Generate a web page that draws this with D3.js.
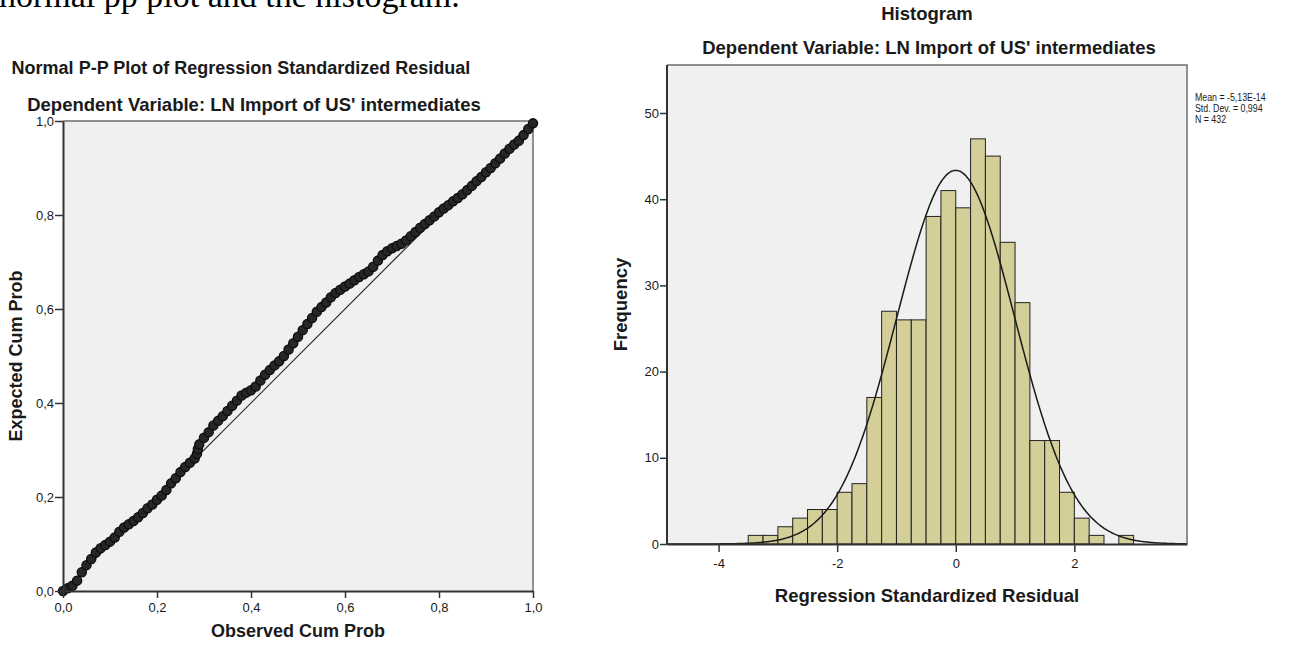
<!DOCTYPE html>
<html>
<head>
<meta charset="utf-8">
<script src="https://cdn.jsdelivr.net/npm/d3@7"></script>
<style>
  html, body { margin: 0; padding: 0; background: #ffffff; }
  svg { display: block; }
  text { font-family: "Liberation Sans", Arial, sans-serif; fill: #1a1a1a; }
</style>
</head>
<body>
<svg id="chart" width="1306" height="646"></svg>
<script>
// ---------- Normal P-P plot data (observed vs expected cumulative probability) ----------
const ppObserved = [
  0.00, 0.01, 0.02, 0.03, 0.04, 0.05, 0.06, 0.07, 0.08, 0.09,
  0.10, 0.11, 0.12, 0.13, 0.14, 0.15, 0.16, 0.17, 0.18, 0.19,
  0.20, 0.21, 0.22, 0.23, 0.24, 0.25, 0.26, 0.27, 0.28, 0.285, 0.287, 0.29,
  0.30, 0.31, 0.32, 0.33, 0.34, 0.35, 0.36, 0.37, 0.38, 0.39,
  0.40, 0.41, 0.42, 0.43, 0.44, 0.45, 0.46, 0.47, 0.48, 0.49,
  0.50, 0.51, 0.52, 0.53, 0.54, 0.55, 0.56, 0.57, 0.58, 0.59,
  0.60, 0.61, 0.62, 0.63, 0.64, 0.65, 0.66, 0.67, 0.68, 0.69,
  0.70, 0.71, 0.72, 0.73, 0.74, 0.75, 0.76, 0.77, 0.78, 0.79,
  0.80, 0.81, 0.82, 0.83, 0.84, 0.85, 0.86, 0.87, 0.88, 0.89,
  0.90, 0.91, 0.92, 0.93, 0.94, 0.95, 0.96, 0.97, 0.98, 0.99, 1.00
];
const ppExpected = [
  0.000, 0.006, 0.011, 0.022, 0.040, 0.055, 0.068, 0.082, 0.091, 0.098,
  0.105, 0.114, 0.126, 0.135, 0.142, 0.149, 0.157, 0.166, 0.176, 0.184,
  0.194, 0.203, 0.215, 0.229, 0.240, 0.253, 0.264, 0.273, 0.282, 0.292, 0.302, 0.312,
  0.326, 0.338, 0.352, 0.362, 0.372, 0.383, 0.394, 0.405, 0.416, 0.422,
  0.427, 0.435, 0.448, 0.460, 0.470, 0.480, 0.489, 0.500, 0.514, 0.527,
  0.541, 0.555, 0.568, 0.581, 0.594, 0.604, 0.614, 0.625, 0.634, 0.641,
  0.648, 0.654, 0.661, 0.668, 0.674, 0.680, 0.690, 0.703, 0.715, 0.723,
  0.729, 0.734, 0.739, 0.746, 0.755, 0.764, 0.773, 0.781, 0.789, 0.797,
  0.806, 0.814, 0.821, 0.829, 0.836, 0.844, 0.853, 0.862, 0.872, 0.881,
  0.891, 0.900, 0.910, 0.920, 0.931, 0.941, 0.950, 0.958, 0.970, 0.983, 0.995
];
const ppTickValues = [0, 0.2, 0.4, 0.6, 0.8, 1.0];
const ppTickLabels = ["0,0", "0,2", "0,4", "0,6", "0,8", "1,0"];

// ---------- Histogram data (bins of width 0.25) ----------
const binLower = [
  -3.50, -3.25, -3.00, -2.75, -2.50, -2.25, -2.00, -1.75, -1.50, -1.25,
  -1.00, -0.75, -0.50, -0.25, 0.00, 0.25, 0.50, 0.75, 1.00, 1.25,
  1.50, 1.75, 2.00, 2.25, 2.50, 2.75
];
const binCounts = [
  1, 1, 2, 3, 4, 4, 6, 7, 17, 27,
  26, 26, 38, 41, 39, 47, 45, 35, 28, 12,
  12, 6, 3, 1, 0, 1
];
const binWidth = 0.25;
const histXTicks = [-4, -2, 0, 2];
const histXTickLabels = ["-4", "-2", "0", "2"];
const histYTicks = [0, 10, 20, 30, 40, 50];
const histYTickLabels = ["0", "10", "20", "30", "40", "50"];
const residMean = -5.13e-14;
const residSD = 0.994;
const residN = 432;
const legendLines = ["Mean = -5,13E-14", "Std. Dev. = 0,994", "N = 432"];

const svg = d3.select("#chart");

// Fragment of the surrounding document text at the top edge
svg.append("text")
  .attr("x", -1).attr("y", 7)
  .style("font-family", "'Liberation Serif', 'Times New Roman', serif")
  .style("font-size", "34px")
  .style("fill", "#000")
  .text("normal pp plot and the histogram.");

function styleAxis(g) {
  g.select(".domain").attr("stroke", "#333").attr("stroke-width", 2);
  g.selectAll(".tick line").attr("stroke", "#333").attr("stroke-width", 1.5);
  g.selectAll(".tick text")
    .style("font-family", "'Liberation Sans', Arial, sans-serif")
    .style("font-size", "13px").attr("fill", "#222");
}

// ================= Normal P-P plot =================
const pp = { left: 63, right: 533, top: 121, bottom: 591 };
const ppX = d3.scaleLinear().domain([0, 1]).range([pp.left, pp.right]);
const ppY = d3.scaleLinear().domain([0, 1]).range([pp.bottom, pp.top]);

const ppG = svg.append("g");
ppG.append("rect")
  .attr("x", pp.left).attr("y", pp.top)
  .attr("width", pp.right - pp.left).attr("height", pp.bottom - pp.top)
  .attr("fill", "#f0f0f0");
ppG.append("path")
  .attr("d", `M${pp.left},${pp.top}H${pp.right}V${pp.bottom}`)
  .attr("fill", "none").attr("stroke", "#6e6e6e").attr("stroke-width", 1.5);

// reference diagonal
ppG.append("path")
  .datum([[0, 0], [1, 1]])
  .attr("d", d3.line().x(d => ppX(d[0])).y(d => ppY(d[1])))
  .attr("stroke", "#2a2a2a").attr("stroke-width", 1.2).attr("fill", "none");

// markers
ppG.append("g").selectAll("circle")
  .data(ppObserved.map((o, i) => [o, ppExpected[i]]))
  .join("circle")
  .attr("cx", d => ppX(d[0])).attr("cy", d => ppY(d[1]))
  .attr("r", 4.6)
  .attr("fill", "#262626").attr("stroke", "#0d0d0d").attr("stroke-width", 1.3);

ppG.append("g")
  .attr("transform", `translate(${pp.left},0)`)
  .call(d3.axisLeft(ppY).tickValues(ppTickValues)
    .tickFormat((d, i) => ppTickLabels[i]).tickSize(8).tickSizeOuter(0).tickPadding(1))
  .call(styleAxis);
ppG.append("g")
  .attr("transform", `translate(0,${pp.bottom})`)
  .call(d3.axisBottom(ppX).tickValues(ppTickValues)
    .tickFormat((d, i) => ppTickLabels[i]).tickSize(7).tickSizeOuter(0).tickPadding(5))
  .call(styleAxis);

ppG.append("text")
  .attr("x", 241).attr("y", 74)
  .attr("text-anchor", "middle")
  .style("font-size", "18px").style("font-weight", "bold")
  .text("Normal P-P Plot of Regression Standardized Residual");
ppG.append("text")
  .attr("x", 254).attr("y", 111)
  .attr("text-anchor", "middle")
  .style("font-size", "18.5px").style("font-weight", "bold")
  .text("Dependent Variable: LN Import of US' intermediates");
ppG.append("text")
  .attr("x", 298).attr("y", 637)
  .attr("text-anchor", "middle")
  .style("font-size", "18px").style("font-weight", "bold")
  .text("Observed Cum Prob");
ppG.append("text")
  .attr("transform", "translate(22,356) rotate(-90)")
  .attr("text-anchor", "middle")
  .style("font-size", "18px").style("font-weight", "bold")
  .text("Expected Cum Prob");

// ================= Histogram =================
const hb = { left: 667, right: 1187, top: 65, bottom: 544 };
const hx = d3.scaleLinear().domain([-4.87, 3.9]).range([hb.left, hb.right]);
const hy = d3.scaleLinear().domain([0, 50]).range([hb.bottom, 113]);

const hG = svg.append("g");
hG.append("rect")
  .attr("x", hb.left).attr("y", hb.top)
  .attr("width", hb.right - hb.left).attr("height", hb.bottom - hb.top)
  .attr("fill", "#f0f0f0");
hG.append("path")
  .attr("d", `M${hb.left},${hb.top}H${hb.right}V${hb.bottom}`)
  .attr("fill", "none").attr("stroke", "#6e6e6e").attr("stroke-width", 1.5);

hG.append("g").selectAll("rect")
  .data(binLower.map((b, i) => ({ x0: b, x1: b + binWidth, n: binCounts[i] })))
  .join("rect")
  .attr("x", d => hx(d.x0))
  .attr("width", d => hx(d.x1) - hx(d.x0))
  .attr("y", d => hy(d.n))
  .attr("height", d => hy(0) - hy(d.n))
  .attr("fill", "#d4cf98")
  .attr("stroke", "#222").attr("stroke-width", 1);

// fitted normal curve from the reported mean, SD and N
const pdf = x => Math.exp(-0.5 * ((x - residMean) / residSD) ** 2) / (residSD * Math.sqrt(2 * Math.PI));
const curveXs = d3.range(hx.domain()[0], hx.domain()[1] + 1e-9, 0.02);
hG.append("path")
  .datum(curveXs)
  .attr("d", d3.line().x(x => hx(x)).y(x => hy(residN * binWidth * pdf(x))).curve(d3.curveBasis))
  .attr("fill", "none").attr("stroke", "#1a1a1a").attr("stroke-width", 1.5);

hG.append("g")
  .attr("transform", `translate(${hb.left},0)`)
  .call(d3.axisLeft(hy).tickValues(histYTicks)
    .tickFormat((d, i) => histYTickLabels[i]).tickSize(7).tickSizeOuter(0).tickPadding(1))
  .call(styleAxis)
  .call(g => g.select(".domain").attr("d", `M0,${hb.top}V${hb.bottom}`));
hG.append("g")
  .attr("transform", `translate(0,${hb.bottom})`)
  .call(d3.axisBottom(hx).tickValues(histXTicks)
    .tickFormat((d, i) => histXTickLabels[i]).tickSize(8).tickSizeOuter(0).tickPadding(7))
  .call(styleAxis);

hG.append("text")
  .attr("x", 927).attr("y", 20)
  .attr("text-anchor", "middle")
  .style("font-size", "18.5px").style("font-weight", "bold")
  .text("Histogram");
hG.append("text")
  .attr("x", 929).attr("y", 54)
  .attr("text-anchor", "middle")
  .style("font-size", "18.5px").style("font-weight", "bold")
  .text("Dependent Variable: LN Import of US' intermediates");
hG.append("text")
  .attr("x", 927).attr("y", 602)
  .attr("text-anchor", "middle")
  .style("font-size", "18.5px").style("font-weight", "bold")
  .text("Regression Standardized Residual");
hG.append("text")
  .attr("transform", `translate(627,${(hb.top + hb.bottom) / 2}) rotate(-90)`)
  .attr("text-anchor", "middle")
  .style("font-size", "18.5px").style("font-weight", "bold")
  .text("Frequency");

// statistics legend (condensed type)
hG.append("g")
  .attr("transform", "translate(1195,0) scale(0.8,1)")
  .selectAll("text")
  .data(legendLines)
  .join("text")
  .attr("x", 0)
  .attr("y", (d, i) => 101 + i * 11)
  .style("font-size", "11px")
  .text(d => d);
</script>
</body>
</html>
